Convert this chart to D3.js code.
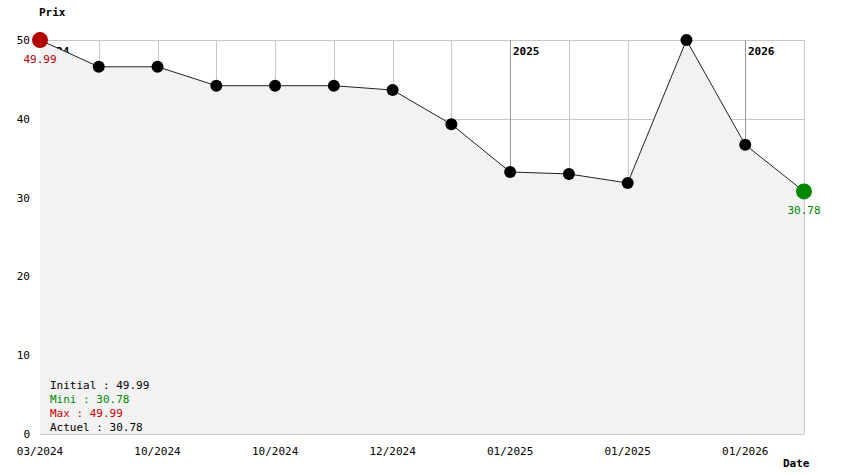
<!DOCTYPE html>
<html>
<head>
<meta charset="utf-8">
<script src="https://cdn.jsdelivr.net/npm/d3@7"></script>
<style>
  body { margin: 0; background: #fff; }
  svg text { font-family: "DejaVu Sans Mono", monospace; font-size: 11px; }
</style>
</head>
<body>
<svg id="chart"></svg>
<script>
// values
var prices = [49.99, 46.6, 46.6, 44.2, 44.2, 44.2, 43.65, 39.3, 33.25, 33.0, 31.85, 49.99, 36.7, 30.78];
var tickLabels = ["03/2024", "", "10/2024", "", "10/2024", "", "12/2024", "", "01/2025", "", "01/2025", "", "01/2026", ""];
var yearMarks = [{ i: 0, label: "2024" }, { i: 8, label: "2025" }, { i: 12, label: "2026" }];
var yTicks = [0, 10, 20, 30, 40, 50];
var legendRows = [
    { text: "Initial : 49.99", color: "#000" },
    { text: "Mini : 30.78", color: "#008800" },
    { text: "Max : 49.99", color: "#cc0000" },
    { text: "Actuel : 30.78", color: "#000" }
];

var width = 844,
    height = 474;
var plotLeft = 40, plotRight = 804, plotTop = 40, plotBottom = 434;

var svg = d3.select("#chart")
    .attr("width", width)
    .attr("height", height);

var x = d3.scaleLinear().domain([0, prices.length - 1]).range([plotLeft, plotRight]);
var y = d3.scaleLinear().domain([0, 50]).range([plotBottom, plotTop]);

// grid
var grid = svg.append("g");
grid.selectAll("line.h")
    .data(yTicks)
    .enter().append("line")
    .attr("x1", plotLeft).attr("x2", plotRight)
    .attr("y1", function(d) { return Math.round(y(d)) + 0.5; })
    .attr("y2", function(d) { return Math.round(y(d)) + 0.5; })
    .style("stroke", "#c8c8c8");

var yearIdx = yearMarks.map(function(d) { return d.i; });
grid.selectAll("line.v")
    .data(prices)
    .enter().append("line")
    .attr("x1", function(d, i) { return Math.round(x(i)) + 0.5; })
    .attr("x2", function(d, i) { return Math.round(x(i)) + 0.5; })
    .attr("y1", plotTop).attr("y2", plotBottom)
    .style("stroke", function(d, i) { return yearIdx.indexOf(i) > 0 ? "#999" : "#c8c8c8"; });

// year labels (under the fill, like the original)
svg.selectAll("text.year")
    .data(yearMarks)
    .enter().append("text")
    .attr("x", function(d) { return Math.round(x(d.i)) + 3; })
    .attr("y", 55)
    .style("font-weight", "bold")
    .text(function(d) { return d.label; });

// filled area under the line
var area = d3.area()
    .x(function(d, i) { return x(i); })
    .y0(plotBottom)
    .y1(function(d) { return y(d); });

svg.append("path")
    .datum(prices)
    .attr("d", area)
    .style("fill", "#f2f2f2");

// axis labels
svg.selectAll("text.ytick")
    .data(yTicks)
    .enter().append("text")
    .attr("x", 30)
    .attr("y", function(d) { return y(d) + 4; })
    .attr("text-anchor", "end")
    .text(function(d) { return d; });

svg.selectAll("text.xtick")
    .data(tickLabels)
    .enter().append("text")
    .attr("x", function(d, i) { return x(i); })
    .attr("y", 455)
    .attr("text-anchor", "middle")
    .text(function(d) { return d; });

svg.append("text").attr("x", 39).attr("y", 16).style("font-weight", "bold").text("Prix");
svg.append("text").attr("x", 783).attr("y", 467).style("font-weight", "bold").text("Date");

// line
var line = d3.line()
    .x(function(d, i) { return x(i); })
    .y(function(d) { return y(d); });

svg.append("path")
    .datum(prices)
    .attr("d", line)
    .style("fill", "none")
    .style("stroke", "#222")
    .style("stroke-width", 1);

// points
var last = prices.length - 1;
svg.selectAll("circle")
    .data(prices)
    .enter().append("circle")
    .attr("cx", function(d, i) { return x(i); })
    .attr("cy", function(d) { return y(d); })
    .attr("r", function(d, i) { return i === 0 || i === last ? 8 : 6; })
    .style("fill", function(d, i) {
        if (i === 0) return "#b30000";
        if (i === last) return "#008800";
        return "#000";
    });

// first / last value labels
svg.append("text")
    .attr("x", x(0)).attr("y", y(prices[0]) + 23)
    .attr("text-anchor", "middle")
    .style("fill", "#b30000")
    .text(prices[0].toFixed(2));

svg.append("text")
    .attr("x", x(last)).attr("y", y(prices[last]) + 23)
    .attr("text-anchor", "middle")
    .style("fill", "#008800")
    .text(prices[last].toFixed(2));

// summary legend
svg.selectAll("text.legend")
    .data(legendRows)
    .enter().append("text")
    .attr("x", 50)
    .attr("y", function(d, i) { return 389 + i * 14; })
    .style("fill", function(d) { return d.color; })
    .text(function(d) { return d.text; });
</script>
</body>
</html>
